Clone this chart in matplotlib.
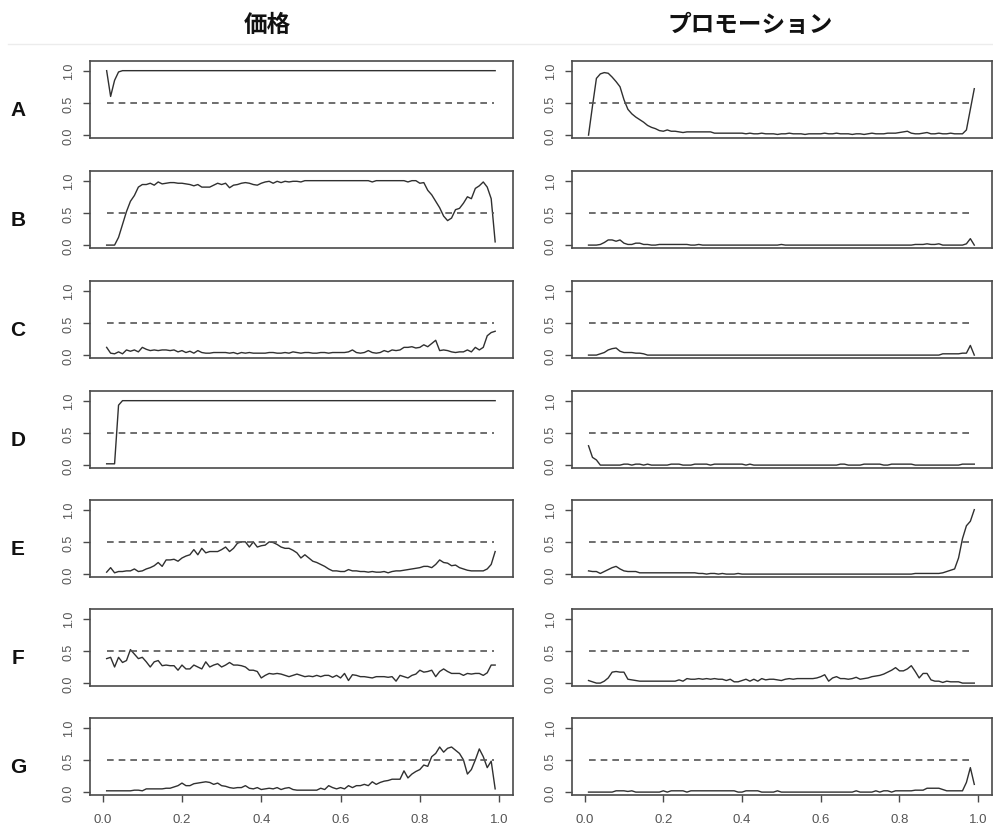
import numpy as np
import matplotlib.pyplot as plt
from matplotlib.lines import Line2D

plt.rcParams['font.family'] = ['Liberation Sans', 'DejaVu Sans']

# grid of the x axis (0.01 .. 0.99)
x = np.round(np.arange(1, 100) / 100, 2)

row_labels = ['A', 'B', 'C', 'D', 'E', 'F', 'G']
col_titles = ['価格', 'プロモーション']
x_ticks = [0.0, 0.2, 0.4, 0.6, 0.8, 1.0]
y_ticks = [0.0, 0.5, 1.0]
threshold = 0.5

price_a = [1.00, 0.60, 0.85, 0.98, 1.00, 1.00, 1.00, 1.00, 1.00, 1.00,
           1.00, 1.00, 1.00, 1.00, 1.00, 1.00, 1.00, 1.00, 1.00, 1.00,
           1.00, 1.00, 1.00, 1.00, 1.00, 1.00, 1.00, 1.00, 1.00, 1.00,
           1.00, 1.00, 1.00, 1.00, 1.00, 1.00, 1.00, 1.00, 1.00, 1.00,
           1.00, 1.00, 1.00, 1.00, 1.00, 1.00, 1.00, 1.00, 1.00, 1.00,
           1.00, 1.00, 1.00, 1.00, 1.00, 1.00, 1.00, 1.00, 1.00, 1.00,
           1.00, 1.00, 1.00, 1.00, 1.00, 1.00, 1.00, 1.00, 1.00, 1.00,
           1.00, 1.00, 1.00, 1.00, 1.00, 1.00, 1.00, 1.00, 1.00, 1.00,
           1.00, 1.00, 1.00, 1.00, 1.00, 1.00, 1.00, 1.00, 1.00, 1.00,
           1.00, 1.00, 1.00, 1.00, 1.00, 1.00, 1.00, 1.00, 1.00]
promo_a = [0.00, 0.45, 0.88, 0.95, 0.97, 0.96, 0.90, 0.83, 0.75, 0.55,
           0.40, 0.33, 0.28, 0.24, 0.20, 0.15, 0.12, 0.10, 0.07, 0.06,
           0.08, 0.06, 0.06, 0.05, 0.04, 0.05, 0.05, 0.05, 0.05, 0.05,
           0.05, 0.05, 0.03, 0.03, 0.03, 0.03, 0.03, 0.03, 0.03, 0.03,
           0.02, 0.03, 0.02, 0.02, 0.03, 0.02, 0.02, 0.02, 0.01, 0.02,
           0.02, 0.03, 0.02, 0.02, 0.02, 0.01, 0.02, 0.02, 0.02, 0.02,
           0.03, 0.02, 0.02, 0.03, 0.02, 0.02, 0.02, 0.01, 0.02, 0.02,
           0.01, 0.02, 0.03, 0.02, 0.02, 0.02, 0.03, 0.03, 0.03, 0.04,
           0.05, 0.06, 0.03, 0.02, 0.02, 0.03, 0.04, 0.02, 0.02, 0.03,
           0.02, 0.02, 0.03, 0.02, 0.02, 0.02, 0.08, 0.40, 0.72]

price_b = [0.00, 0.00, 0.00, 0.12, 0.32, 0.52, 0.68, 0.77, 0.90, 0.94,
           0.94, 0.96, 0.93, 0.98, 0.95, 0.96, 0.97, 0.97, 0.96, 0.96,
           0.95, 0.94, 0.92, 0.94, 0.90, 0.90, 0.90, 0.93, 0.96, 0.94,
           0.96, 0.89, 0.93, 0.94, 0.96, 0.97, 0.96, 0.94, 0.93, 0.96,
           0.98, 0.99, 0.96, 0.99, 0.97, 0.99, 0.98, 0.99, 0.99, 0.98,
           1.00, 1.00, 1.00, 1.00, 1.00, 1.00, 1.00, 1.00, 1.00, 1.00,
           1.00, 1.00, 1.00, 1.00, 1.00, 1.00, 1.00, 0.98, 1.00, 1.00,
           1.00, 1.00, 1.00, 1.00, 1.00, 1.00, 0.98, 1.00, 1.00, 0.96,
           0.97, 0.85, 0.78, 0.68, 0.58, 0.45, 0.38, 0.42, 0.55, 0.57,
           0.65, 0.75, 0.72, 0.88, 0.92, 0.98, 0.90, 0.72, 0.05]
promo_b = [0.00, 0.00, 0.00, 0.01, 0.04, 0.08, 0.08, 0.06, 0.08, 0.03,
           0.01, 0.01, 0.03, 0.03, 0.01, 0.01, 0.00, 0.00, 0.01, 0.01,
           0.01, 0.01, 0.01, 0.01, 0.01, 0.01, 0.00, 0.00, 0.01, 0.00,
           0.00, 0.00, 0.00, 0.00, 0.00, 0.00, 0.00, 0.00, 0.00, 0.00,
           0.00, 0.00, 0.00, 0.00, 0.00, 0.00, 0.00, 0.00, 0.00, 0.01,
           0.00, 0.00, 0.00, 0.00, 0.00, 0.00, 0.00, 0.00, 0.00, 0.00,
           0.00, 0.00, 0.00, 0.00, 0.00, 0.00, 0.00, 0.00, 0.00, 0.00,
           0.00, 0.00, 0.00, 0.00, 0.00, 0.00, 0.00, 0.00, 0.00, 0.00,
           0.00, 0.00, 0.00, 0.01, 0.01, 0.01, 0.02, 0.01, 0.01, 0.02,
           0.00, 0.00, 0.00, 0.00, 0.00, 0.00, 0.02, 0.10, 0.00]

price_c = [0.12, 0.03, 0.02, 0.05, 0.02, 0.08, 0.06, 0.08, 0.05, 0.12,
           0.09, 0.07, 0.08, 0.07, 0.08, 0.08, 0.07, 0.08, 0.05, 0.07,
           0.04, 0.06, 0.03, 0.07, 0.04, 0.03, 0.03, 0.04, 0.04, 0.04,
           0.04, 0.03, 0.04, 0.02, 0.04, 0.03, 0.04, 0.03, 0.03, 0.03,
           0.03, 0.04, 0.04, 0.03, 0.03, 0.04, 0.03, 0.05, 0.04, 0.03,
           0.04, 0.04, 0.03, 0.03, 0.04, 0.04, 0.03, 0.04, 0.04, 0.04,
           0.04, 0.05, 0.08, 0.04, 0.03, 0.04, 0.07, 0.04, 0.03, 0.04,
           0.07, 0.05, 0.08, 0.07, 0.08, 0.12, 0.12, 0.13, 0.11, 0.12,
           0.16, 0.13, 0.18, 0.23, 0.07, 0.08, 0.07, 0.05, 0.04, 0.05,
           0.05, 0.08, 0.05, 0.12, 0.08, 0.12, 0.30, 0.35, 0.37]
promo_c = [0.00, 0.00, 0.00, 0.02, 0.04, 0.08, 0.10, 0.11, 0.06, 0.04,
           0.04, 0.04, 0.03, 0.03, 0.02, 0.00, 0.00, 0.00, 0.00, 0.00,
           0.00, 0.00, 0.00, 0.00, 0.00, 0.00, 0.00, 0.00, 0.00, 0.00,
           0.00, 0.00, 0.00, 0.00, 0.00, 0.00, 0.00, 0.00, 0.00, 0.00,
           0.00, 0.00, 0.00, 0.00, 0.00, 0.00, 0.00, 0.00, 0.00, 0.00,
           0.00, 0.00, 0.00, 0.00, 0.00, 0.00, 0.00, 0.00, 0.00, 0.00,
           0.00, 0.00, 0.00, 0.00, 0.00, 0.00, 0.00, 0.00, 0.00, 0.00,
           0.00, 0.00, 0.00, 0.00, 0.00, 0.00, 0.00, 0.00, 0.00, 0.00,
           0.00, 0.00, 0.00, 0.00, 0.00, 0.00, 0.00, 0.00, 0.00, 0.00,
           0.02, 0.02, 0.02, 0.02, 0.02, 0.03, 0.03, 0.15, 0.00]

price_d = [0.02, 0.02, 0.02, 0.93, 1.00, 1.00, 1.00, 1.00, 1.00, 1.00,
           1.00, 1.00, 1.00, 1.00, 1.00, 1.00, 1.00, 1.00, 1.00, 1.00,
           1.00, 1.00, 1.00, 1.00, 1.00, 1.00, 1.00, 1.00, 1.00, 1.00,
           1.00, 1.00, 1.00, 1.00, 1.00, 1.00, 1.00, 1.00, 1.00, 1.00,
           1.00, 1.00, 1.00, 1.00, 1.00, 1.00, 1.00, 1.00, 1.00, 1.00,
           1.00, 1.00, 1.00, 1.00, 1.00, 1.00, 1.00, 1.00, 1.00, 1.00,
           1.00, 1.00, 1.00, 1.00, 1.00, 1.00, 1.00, 1.00, 1.00, 1.00,
           1.00, 1.00, 1.00, 1.00, 1.00, 1.00, 1.00, 1.00, 1.00, 1.00,
           1.00, 1.00, 1.00, 1.00, 1.00, 1.00, 1.00, 1.00, 1.00, 1.00,
           1.00, 1.00, 1.00, 1.00, 1.00, 1.00, 1.00, 1.00, 1.00]
promo_d = [0.30, 0.12, 0.08, 0.00, 0.00, 0.00, 0.00, 0.00, 0.00, 0.015,
           0.015, 0.00, 0.015, 0.015, 0.00, 0.015, 0.00, 0.00, 0.00, 0.00,
           0.00, 0.015, 0.015, 0.015, 0.00, 0.00, 0.00, 0.015, 0.015, 0.015,
           0.015, 0.00, 0.015, 0.015, 0.015, 0.015, 0.015, 0.015, 0.015, 0.015,
           0.00, 0.015, 0.00, 0.00, 0.00, 0.00, 0.00, 0.00, 0.00, 0.00,
           0.00, 0.00, 0.00, 0.00, 0.00, 0.00, 0.00, 0.00, 0.00, 0.00,
           0.00, 0.00, 0.00, 0.00, 0.015, 0.015, 0.00, 0.00, 0.00, 0.00,
           0.015, 0.015, 0.015, 0.015, 0.015, 0.00, 0.00, 0.015, 0.015, 0.015,
           0.015, 0.015, 0.015, 0.00, 0.00, 0.00, 0.00, 0.00, 0.00, 0.00,
           0.00, 0.00, 0.00, 0.00, 0.00, 0.015, 0.015, 0.015, 0.015]

price_e = [0.03, 0.10, 0.02, 0.04, 0.04, 0.05, 0.05, 0.08, 0.04, 0.05,
           0.08, 0.10, 0.13, 0.18, 0.12, 0.22, 0.22, 0.23, 0.20, 0.25,
           0.28, 0.30, 0.38, 0.30, 0.40, 0.33, 0.35, 0.35, 0.35, 0.38,
           0.42, 0.35, 0.40, 0.48, 0.50, 0.50, 0.42, 0.50, 0.42, 0.44,
           0.45, 0.50, 0.49, 0.46, 0.42, 0.40, 0.40, 0.37, 0.33, 0.25,
           0.30, 0.25, 0.20, 0.18, 0.15, 0.12, 0.08, 0.05, 0.05, 0.04,
           0.04, 0.07, 0.05, 0.05, 0.04, 0.04, 0.03, 0.04, 0.03, 0.03,
           0.04, 0.02, 0.04, 0.05, 0.05, 0.06, 0.07, 0.08, 0.09, 0.10,
           0.12, 0.12, 0.10, 0.15, 0.22, 0.18, 0.17, 0.13, 0.14, 0.10,
           0.08, 0.06, 0.05, 0.05, 0.05, 0.05, 0.08, 0.15, 0.35]
promo_e = [0.05, 0.04, 0.04, 0.01, 0.04, 0.07, 0.10, 0.12, 0.08, 0.05,
           0.04, 0.04, 0.04, 0.02, 0.02, 0.02, 0.02, 0.02, 0.02, 0.02,
           0.02, 0.02, 0.02, 0.02, 0.02, 0.02, 0.02, 0.02, 0.01, 0.01,
           0.00, 0.01, 0.01, 0.00, 0.01, 0.00, 0.00, 0.00, 0.01, 0.00,
           0.00, 0.00, 0.00, 0.00, 0.00, 0.00, 0.00, 0.00, 0.00, 0.00,
           0.00, 0.00, 0.00, 0.00, 0.00, 0.00, 0.00, 0.00, 0.00, 0.00,
           0.00, 0.00, 0.00, 0.00, 0.00, 0.00, 0.00, 0.00, 0.00, 0.00,
           0.00, 0.00, 0.00, 0.00, 0.00, 0.00, 0.00, 0.00, 0.00, 0.00,
           0.00, 0.00, 0.00, 0.01, 0.01, 0.01, 0.01, 0.01, 0.01, 0.01,
           0.02, 0.04, 0.06, 0.08, 0.25, 0.55, 0.75, 0.82, 1.00]

price_f = [0.38, 0.40, 0.25, 0.40, 0.32, 0.35, 0.52, 0.45, 0.38, 0.40,
           0.33, 0.25, 0.33, 0.35, 0.27, 0.28, 0.27, 0.27, 0.20, 0.28,
           0.22, 0.22, 0.28, 0.25, 0.22, 0.33, 0.25, 0.28, 0.30, 0.25,
           0.28, 0.32, 0.28, 0.28, 0.27, 0.25, 0.20, 0.20, 0.18, 0.08,
           0.12, 0.15, 0.14, 0.15, 0.14, 0.12, 0.10, 0.12, 0.14, 0.12,
           0.10, 0.11, 0.10, 0.12, 0.10, 0.12, 0.12, 0.09, 0.12, 0.08,
           0.15, 0.04, 0.13, 0.12, 0.10, 0.10, 0.09, 0.08, 0.10, 0.10,
           0.10, 0.09, 0.10, 0.03, 0.12, 0.10, 0.08, 0.12, 0.14, 0.20,
           0.17, 0.18, 0.20, 0.10, 0.18, 0.22, 0.18, 0.15, 0.15, 0.15,
           0.12, 0.15, 0.14, 0.15, 0.15, 0.12, 0.16, 0.28, 0.28]
promo_f = [0.04, 0.02, 0.00, 0.00, 0.03, 0.08, 0.17, 0.18, 0.17, 0.17,
           0.06, 0.05, 0.04, 0.03, 0.03, 0.03, 0.03, 0.03, 0.03, 0.03,
           0.03, 0.03, 0.03, 0.05, 0.03, 0.07, 0.06, 0.06, 0.07, 0.06,
           0.07, 0.06, 0.07, 0.06, 0.06, 0.04, 0.06, 0.02, 0.02, 0.04,
           0.06, 0.03, 0.06, 0.03, 0.07, 0.05, 0.06, 0.06, 0.05, 0.04,
           0.06, 0.07, 0.06, 0.07, 0.07, 0.07, 0.07, 0.07, 0.08, 0.10,
           0.13, 0.03, 0.08, 0.10, 0.07, 0.07, 0.06, 0.07, 0.09, 0.06,
           0.07, 0.08, 0.10, 0.11, 0.12, 0.14, 0.17, 0.20, 0.24, 0.19,
           0.19, 0.22, 0.27, 0.18, 0.08, 0.15, 0.15, 0.05, 0.03, 0.03,
           0.01, 0.03, 0.02, 0.02, 0.02, 0.00, 0.00, 0.00, 0.00]

price_g = [0.02, 0.02, 0.02, 0.02, 0.02, 0.02, 0.02, 0.03, 0.03, 0.02,
           0.05, 0.05, 0.05, 0.05, 0.05, 0.06, 0.06, 0.08, 0.10, 0.14,
           0.10, 0.10, 0.13, 0.14, 0.15, 0.16, 0.15, 0.12, 0.14, 0.10,
           0.09, 0.07, 0.06, 0.07, 0.07, 0.10, 0.06, 0.05, 0.07, 0.04,
           0.05, 0.06, 0.05, 0.07, 0.04, 0.06, 0.07, 0.04, 0.03, 0.03,
           0.03, 0.03, 0.03, 0.03, 0.06, 0.04, 0.10, 0.07, 0.05, 0.07,
           0.05, 0.10, 0.07, 0.10, 0.10, 0.12, 0.10, 0.16, 0.12, 0.15,
           0.17, 0.18, 0.20, 0.20, 0.20, 0.33, 0.22, 0.28, 0.32, 0.35,
           0.42, 0.40, 0.55, 0.60, 0.70, 0.62, 0.68, 0.70, 0.65, 0.60,
           0.50, 0.28, 0.35, 0.50, 0.67, 0.55, 0.38, 0.48, 0.05]
promo_g = [0.00, 0.00, 0.00, 0.00, 0.00, 0.00, 0.00, 0.02, 0.02, 0.02,
           0.01, 0.02, 0.00, 0.00, 0.00, 0.00, 0.00, 0.00, 0.00, 0.02,
           0.00, 0.02, 0.02, 0.02, 0.02, 0.00, 0.02, 0.02, 0.02, 0.02,
           0.02, 0.02, 0.02, 0.02, 0.02, 0.02, 0.02, 0.02, 0.00, 0.00,
           0.02, 0.02, 0.02, 0.02, 0.00, 0.00, 0.00, 0.00, 0.02, 0.00,
           0.00, 0.00, 0.00, 0.00, 0.00, 0.00, 0.00, 0.00, 0.00, 0.00,
           0.00, 0.00, 0.00, 0.00, 0.00, 0.00, 0.00, 0.00, 0.02, 0.00,
           0.00, 0.00, 0.00, 0.02, 0.00, 0.02, 0.02, 0.00, 0.02, 0.02,
           0.02, 0.02, 0.02, 0.03, 0.03, 0.03, 0.06, 0.06, 0.06, 0.06,
           0.04, 0.02, 0.02, 0.02, 0.02, 0.02, 0.15, 0.38, 0.12]

price_series = [price_a, price_b, price_c, price_d, price_e, price_f, price_g]
promo_series = [promo_a, promo_b, promo_c, promo_d, promo_e, promo_f, promo_g]

# layout in pixels of the 993x829 canvas
W, H = 993, 829
fig = plt.figure(figsize=(W / 100, H / 100), dpi=100)

col_x = [(90, 513), (572, 992)]
row_top = [62, 172, 282, 392, 501, 610, 719]
panel_h = 77

line_col = '#303030'
frame_col = '#4a4a4a'
text_col = '#555555'

for r, label in enumerate(row_labels):
    top = row_top[r]
    for c, series in enumerate([price_series[r], promo_series[r]]):
        x0, x1 = col_x[c]
        ax = fig.add_axes([x0 / W, 1 - (top + panel_h) / H, (x1 - x0) / W, panel_h / H])
        ax.plot(x, series, color=line_col, lw=1.0)
        ax.axhline(threshold, xmin=0.04, xmax=0.955, color='#555555', lw=1.2,
                   linestyle=(0, (4, 3)))
        ax.set_xlim(-0.032, 1.035)
        ax.set_ylim(-0.045, 1.15)
        ax.set_yticks(y_ticks)
        ax.set_yticklabels(['0.0', '0.5', '1.0'])
        ax.tick_params(axis='y', labelrotation=90, length=5, width=1.0,
                       color=frame_col, labelcolor=text_col, labelsize=9, pad=6)
        for lab in ax.get_yticklabels():
            lab.set_va('center')
        if r == len(row_labels) - 1:
            ax.set_xticks(x_ticks)
            ax.set_xticklabels(['0.0', '0.2', '0.4', '0.6', '0.8', '1.0'])
            ax.tick_params(axis='x', length=5, width=1.0, color=frame_col,
                           labelcolor=text_col, labelsize=9.5, pad=8)
        else:
            ax.set_xticks([])
        for s in ax.spines.values():
            s.set_color(frame_col)
            s.set_linewidth(1.2)
    fig.text(18 / W, 1 - (top + panel_h / 2 + 10) / H, label, fontsize=15,
             fontweight='bold', ha='center', va='center', color='#111111')

# column titles and the faint rule underneath
title_x = [267, 750]
for t, tx in zip(col_titles, title_x):
    fig.text(tx / W, 1 - 25 / H, t, fontsize=17, fontweight='bold',
             family=['Noto Sans CJK JP', 'DejaVu Sans'],
             ha='center', va='center', color='#111111')
fig.add_artist(Line2D([8 / W, 1.0], [1 - 45 / H, 1 - 45 / H], color='#ececec', lw=1.0))

fig.savefig('out.png', dpi=100)
